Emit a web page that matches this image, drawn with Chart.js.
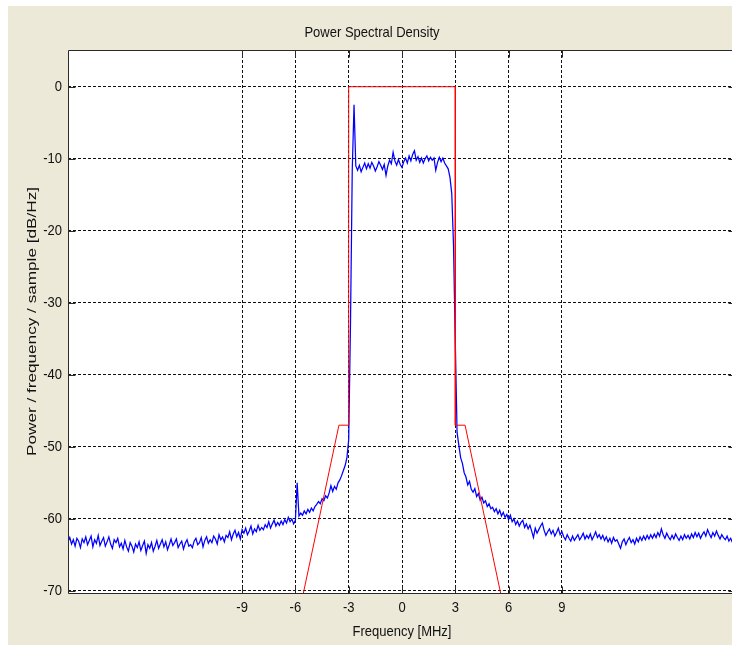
<!DOCTYPE html>
<html><head><meta charset="utf-8">
<script src="https://cdn.jsdelivr.net/npm/chart.js@4.4.1/dist/chart.umd.min.js"></script>
<style>
html,body{margin:0;padding:0;background:#fff;overflow:hidden;width:732px;height:645px;}
#wrap{position:relative;width:744px;height:645px;}
canvas{display:block;}
</style></head>
<body><div id="wrap"><canvas id="c" width="744" height="645"></canvas></div>
<script>
// ---- data ----
const freqStart = -18.8;           // MHz, first PSD bin
const freqStep = 0.1;              // MHz between PSD bins
const psdLowerBand = [             // -18.8 .. -3.1 MHz
 -63.2,-62.6,-63.5,-62.9,-63.8,-62.7,-63.1,-64.0,-62.8,-63.3,
 -62.5,-63.6,-63.0,-62.4,-63.9,-62.9,-63.4,-62.3,-63.7,-63.1,
 -62.6,-63.8,-63.2,-62.5,-63.5,-64.1,-62.9,-63.3,-62.7,-63.9,
 -63.4,-64.2,-63.0,-63.9,-64.5,-63.3,-63.8,-64.6,-63.5,-64.0,
 -63.2,-64.4,-63.7,-63.1,-64.8,-63.6,-64.1,-63.3,-64.5,-63.8,
 -63.0,-64.1,-63.5,-62.9,-63.9,-63.2,-64.3,-63.6,-62.8,-63.7,
 -63.3,-62.8,-64.0,-63.5,-63.1,-64.2,-63.4,-62.9,-63.8,-63.6,
 -64.0,-63.1,-62.7,-63.6,-63.3,-62.6,-63.9,-63.0,-62.5,-63.4,
 -62.9,-63.3,-62.4,-62.8,-63.5,-62.2,-62.9,-62.5,-63.2,-62.3,
 -62.6,-61.8,-62.9,-62.1,-61.6,-62.5,-61.9,-62.8,-61.5,-62.0,
 -61.3,-62.2,-61.7,-61.0,-62.1,-61.4,-61.8,-60.9,-61.6,-61.2,
 -61.5,-60.8,-61.2,-60.4,-61.3,-60.7,-60.2,-61.0,-60.5,-60.9,
 -60.3,-60.8,-60.1,-60.6,-59.8,-60.4,-60.0,-60.7,-60.2,-55.0,
 -59.6,-59.2,-59.5,-58.9,-59.3,-58.7,-59.1,-58.5,-58.9,-58.3,
 -58.0,-57.6,-57.9,-57.2,-57.5,-56.8,-57.1,-56.4,-55.4,-56.2,
 -55.5,-55.9,-55.0,-54.6,-54.0,-53.3,-52.6,-51.5
];
const psdPassband = [              // -3.0 .. 3.0 MHz
 -49.0,-33.0,
 -11.5,-2.5,-11.0,-11.6,-10.9,-11.8,-11.2,-10.6,-11.4,-10.7,
 -11.3,-10.5,-11.0,-11.7,-11.1,-10.4,-10.9,-11.5,-10.8,-12.3,
 -11.0,-10.2,-10.7,-9.1,-10.3,-10.9,-10.1,-10.8,-11.2,-10.4,
 -9.9,-10.6,-9.6,-10.3,-9.4,-8.9,-10.2,-9.7,-10.5,-9.9,
 -10.6,-10.0,-9.6,-10.3,-9.8,-10.2,-9.9,-11.6,-10.5,-9.8,
 -10.4,-9.9,-10.6,-11.0,-11.4,-12.6,-14.8,-22.0,-35.5
];
const psdUpperBand = [             // 3.1 .. 18.8 MHz
 -48.0,
 -49.8,-51.5,-52.3,-53.6,-54.2,-55.3,-54.8,-55.9,-56.3,-55.8,
 -56.9,-56.5,-57.4,-57.0,-57.8,-57.5,-58.3,-57.9,-58.6,-58.4,
 -59.0,-58.6,-59.3,-58.8,-59.6,-59.1,-59.8,-59.4,-60.1,-59.5,
 -60.4,-60.0,-60.8,-60.3,-61.0,-60.5,-60.2,-61.2,-60.7,-61.4,
 -60.9,-61.7,-62.6,-61.3,-62.0,-61.5,-61.0,-60.6,-61.6,-62.3,
 -61.8,-61.4,-62.1,-61.6,-62.4,-61.9,-61.3,-62.2,-61.8,-62.5,
 -62.9,-62.2,-62.7,-63.1,-62.4,-63.0,-62.6,-62.2,-62.9,-62.5,
 -62.0,-62.8,-62.3,-62.7,-62.1,-62.9,-62.4,-61.8,-62.6,-62.2,
 -62.8,-62.3,-63.0,-62.5,-63.2,-62.7,-63.4,-62.6,-63.1,-62.9,
 -63.5,-64.1,-63.2,-62.8,-63.6,-63.0,-62.6,-63.3,-62.9,-63.5,
 -62.7,-63.2,-62.5,-63.0,-62.4,-62.9,-62.3,-62.8,-62.2,-62.7,
 -62.1,-62.6,-61.9,-62.4,-61.4,-62.2,-62.7,-62.0,-62.5,-62.9,
 -62.3,-62.8,-62.1,-62.6,-63.0,-62.4,-62.9,-62.2,-62.7,-62.3,
 -62.8,-62.1,-62.6,-61.9,-62.5,-62.0,-62.7,-62.2,-61.8,-62.4,
 -61.5,-62.1,-62.6,-61.9,-62.4,-61.7,-62.3,-62.8,-62.2,-62.6,
 -62.9,-62.4,-63.1,-62.7,-63.3,-62.8,-63.0
];
const maskFreq  = [-5.55, -3.55, -3.0, -3.0, 3.0, 3.0, 3.55, 5.55];
const maskLevel = [-70.3, -47, -47, 0, 0, -47, -47, -70.3];
const xTickValues = [-9, -6, -3, 0, 3, 6, 9];
const yTickValues = [0, -10, -20, -30, -40, -50, -60, -70];
const xRange = [-18.8, 18.8];
const yRange = [-70.3, 5.1];

// ---- build ----
const psdValues = psdLowerBand.concat(psdPassband, psdUpperBand);
const psdPoints = psdValues.map((v, i) => ({ x: +(freqStart + i * freqStep).toFixed(2), y: v }));
const maskPoints = maskFreq.map((f, i) => ({ x: f, y: maskLevel[i] }));

const TEXT_STRETCH = 1.17;     // horizontal texts: tall, narrow glyphs
const LABEL_STRETCH = 1.32;    // rotated y-axis label: long
const txtFont = { family: "'Liberation Sans', Arial, sans-serif", size: 13, lineHeight: 1.2 };
const lh = 13 * 1.2;
const titleMid = 33.3, plotTop = 50;

const stretch = {
  id: 'stretch',
  beforeInit(chart) {
    const ctx = chart.ctx;
    const orig = ctx.fillText.bind(ctx);
    ctx.fillText = function (text, x, y, maxWidth) {
      const m = ctx.getTransform();
      ctx.save();
      ctx.translate(x, y);
      if (Math.abs(m.b) > 0.5) ctx.scale(LABEL_STRETCH, 1); else ctx.scale(1, TEXT_STRETCH);
      if (maxWidth !== undefined) orig(text, 0, 0, maxWidth); else orig(text, 0, 0);
      ctx.restore();
    };
  }
};

const frame = {
  id: 'frame',
  beforeDraw(chart) {
    const { ctx, chartArea: a, width, height } = chart;
    ctx.save();
    ctx.fillStyle = '#ffffff'; ctx.fillRect(0, 0, width, height);
    ctx.fillStyle = '#ECE9D8'; ctx.fillRect(8, 6, width - 8, height - 6);
    ctx.fillStyle = '#ffffff'; ctx.fillRect(a.left, a.top, a.right - a.left, a.bottom - a.top);
    ctx.restore();
  },
  afterDraw(chart) {
    const { ctx, chartArea: a, scales: { x, y } } = chart;
    ctx.save();
    ctx.strokeStyle = '#2a2a2a'; ctx.lineWidth = 1;
    const L = Math.round(a.left) + 0.5, R = Math.round(a.right) - 0.5;
    const T = Math.round(a.top) + 0.5, B = Math.round(a.bottom) + 0.5;
    ctx.beginPath();
    ctx.moveTo(L, B); ctx.lineTo(L, T); ctx.lineTo(R, T); ctx.lineTo(R, B); ctx.closePath();
    const tl = 7;
    x.ticks.forEach(t => { const px = Math.round(x.getPixelForValue(t.value)) + 0.5;
      ctx.moveTo(px, B); ctx.lineTo(px, B - tl); ctx.moveTo(px, T); ctx.lineTo(px, T + tl); });
    y.ticks.forEach(t => { const py = Math.round(y.getPixelForValue(t.value)) + 0.5;
      ctx.moveTo(L, py); ctx.lineTo(L + tl, py); ctx.moveTo(R, py); ctx.lineTo(R - tl, py); });
    ctx.stroke();
    ctx.restore();
  }
};

new Chart(document.getElementById('c'), {
  type: 'line',
  data: {
    datasets: [
      { label: 'Mask', data: maskPoints, borderColor: '#FF0000', borderWidth: 1, pointRadius: 0, tension: 0, order: 0 },
      { label: 'PSD', data: psdPoints, borderColor: '#0000FF', borderWidth: 1.25, pointRadius: 0, tension: 0, order: 1 }
    ]
  },
  options: {
    responsive: false, animation: false, devicePixelRatio: 1,
    layout: { padding: { left: 8, top: 6, right: 8, bottom: 0 } },
    plugins: {
      legend: { display: false }, tooltip: { enabled: false },
      title: { display: true, text: 'Power Spectral Density', color: '#111', font: { ...txtFont, weight: 'normal' },
               padding: { top: titleMid - 6 - lh / 2, bottom: plotTop - titleMid - lh / 2 } }
    },
    scales: {
      x: {
        type: 'linear', min: xRange[0], max: xRange[1],
        afterBuildTicks: s => { s.ticks = xTickValues.map(v => ({ value: v })); },
        afterFit: s => { s.height = 52; },
        grid: { color: '#111', lineWidth: 1, drawTicks: false },
        border: { display: false, dash: [3, 2] },
        ticks: { autoSkip: false, maxRotation: 0, padding: 7, color: '#111', font: txtFont, callback: v => String(v) },
        title: { display: true, text: 'Frequency [MHz]', color: '#111', font: txtFont, padding: { top: 0, bottom: 5 } }
      },
      y: {
        type: 'linear', min: yRange[0], max: yRange[1],
        afterBuildTicks: s => { s.ticks = yTickValues.map(v => ({ value: v })); },
        afterFit: s => { s.width = 60; },
        grid: { color: '#111', lineWidth: 1, drawTicks: false },
        border: { display: false, dash: [3, 2] },
        ticks: { padding: 6, color: '#111', font: txtFont, callback: v => String(v) },
        title: { display: true, text: 'Power / frequency / sample [dB/Hz]', color: '#111',
                 font: txtFont, padding: { top: 16.5, bottom: 0 } }
      }
    }
  },
  plugins: [stretch, frame]
});
</script></body></html>
